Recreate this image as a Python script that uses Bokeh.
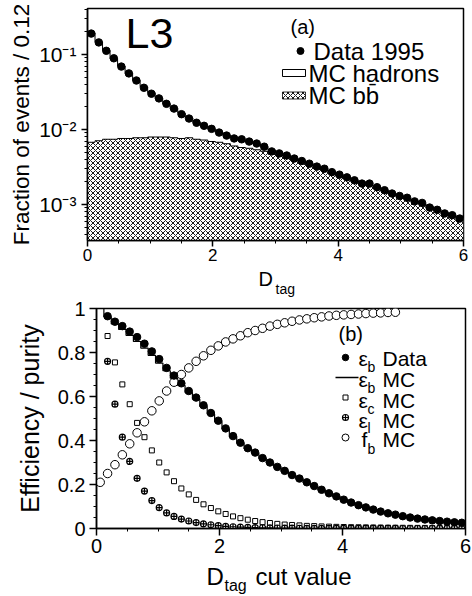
from bokeh.plotting import figure
from bokeh.models import (Range1d, Label, SingleIntervalTicker, LogTicker, CustomJSTickFormatter)
from bokeh.embed import file_html
from bokeh.resources import INLINE

FONT = "Liberation Sans"

# ---------------- panel (a): D_tag distribution ----------------
bin_edges = [round(0.12 * i, 2) for i in range(51)]
bin_centers = [round(0.06 + 0.12 * i, 2) for i in range(50)]
data_1995 = [0.190, 0.145, 0.112, 0.089, 0.069, 0.056, 0.045, 0.036, 0.030, 0.026,
             0.022, 0.019, 0.016, 0.014, 0.0123, 0.0112, 0.0102, 0.0091, 0.0083, 0.0076,
             0.0074, 0.0069, 0.0065, 0.0059, 0.0051, 0.0048, 0.0045, 0.0041, 0.0038, 0.0035,
             0.0032, 0.0030, 0.0027, 0.0025, 0.0023, 0.0021, 0.0019, 0.0019, 0.0017, 0.00155,
             0.0014, 0.0013, 0.00123, 0.0011, 0.00105, 0.00091, 0.00085, 0.00076, 0.00072, 0.00065]
mc_hadrons = [0.195, 0.147, 0.113, 0.088, 0.070, 0.056, 0.045, 0.037, 0.031, 0.026,
              0.022, 0.019, 0.0165, 0.0143, 0.0125, 0.0112, 0.0101, 0.0092, 0.0084, 0.0077,
              0.0072, 0.0068, 0.0064, 0.0059, 0.0053, 0.0049, 0.0045, 0.0041, 0.0038, 0.0035,
              0.0032, 0.0029, 0.0027, 0.0025, 0.0023, 0.0021, 0.0020, 0.0018, 0.0017, 0.00155,
              0.0014, 0.0013, 0.0012, 0.0011, 0.00102, 0.00094, 0.00086, 0.00078, 0.00072, 0.00066]
mc_bb = [0.00676, 0.00708, 0.00741, 0.00741, 0.00759, 0.00759, 0.00776, 0.00776, 0.00794, 0.00794,
         0.00794, 0.00776, 0.00759, 0.00776, 0.00741, 0.00724, 0.00692, 0.00676, 0.00646, 0.00603,
         0.00575, 0.00562, 0.00537, 0.00513, 0.00468, 0.00447, 0.00417, 0.00389, 0.00363, 0.00339,
         0.00316, 0.00288, 0.00263, 0.00240, 0.00224, 0.00204, 0.00191, 0.00178, 0.00166, 0.00151,
         0.00138, 0.00129, 0.00120, 0.00110, 0.00102, 0.000912, 0.000832, 0.000759, 0.000692, 0.000617]
legend_a = ["Data 1995", "MC hadrons", "MC b\u0062\u0304"]

# ---------------- panel (b): efficiency / purity ----------------
cut_values = [round(0.18 + 0.12 * i, 2) for i in range(49)]
eff_b_data = [0.965, 0.94, 0.92, 0.895, 0.87, 0.84, 0.805, 0.77, 0.73, 0.695,
              0.66, 0.625, 0.595, 0.56, 0.525, 0.49, 0.455, 0.42, 0.39, 0.365,
              0.345, 0.32, 0.30, 0.28, 0.262, 0.243, 0.227, 0.21, 0.193, 0.176,
              0.16, 0.146, 0.131, 0.118, 0.106, 0.096, 0.086, 0.077, 0.069, 0.063,
              0.056, 0.05, 0.045, 0.041, 0.037, 0.034, 0.031, 0.028, 0.026]
eff_b_mc = [0.962, 0.93, 0.905, 0.878, 0.85, 0.82, 0.787, 0.752, 0.717, 0.683,
            0.65, 0.618, 0.588, 0.555, 0.52, 0.486, 0.452, 0.418, 0.388, 0.363,
            0.342, 0.319, 0.298, 0.279, 0.26, 0.242, 0.225, 0.208, 0.191, 0.175,
            0.159, 0.145, 0.131, 0.118, 0.106, 0.095, 0.085, 0.077, 0.069, 0.062,
            0.056, 0.05, 0.045, 0.041, 0.037, 0.034, 0.031, 0.028, 0.026]
eff_c_mc = [0.875, 0.755, 0.655, 0.565, 0.48, 0.415, 0.355, 0.30, 0.255, 0.215,
            0.182, 0.155, 0.13, 0.11, 0.093, 0.078, 0.066, 0.055, 0.047, 0.040,
            0.034, 0.029, 0.025, 0.021, 0.018, 0.016, 0.014, 0.012, 0.011, 0.0095,
            0.0085, 0.0075, 0.0068, 0.006, 0.0055, 0.005, 0.0046, 0.0042, 0.0038, 0.0035,
            0.0032, 0.003, 0.0028, 0.0026, 0.0024, 0.0022, 0.0021, 0.002, 0.0019]
eff_l_mc = [0.76, 0.565, 0.415, 0.305, 0.228, 0.17, 0.127, 0.095, 0.071, 0.055,
            0.043, 0.034, 0.027, 0.021, 0.017, 0.013, 0.010, 0.008, 0.0065, 0.005,
            0.004, 0.0033, 0.0027, 0.0022, 0.0018, 0.0015, 0.0012, 0.001, 0.0008, 0.0007,
            0.0006, 0.0005, 0.0004, 0.00035, 0.0003, 0.00025, 0.0002, 0.0002, 0.00015, 0.00015,
            0.0001, 0.0001, 0.0001, 0.0001, 0.0001, 0.0001, 0.0001, 0.0001, 0.0001]
fb_cut_values = [round(0.06 + 0.12 * i, 2) for i in range(41)]
f_b_mc = [0.21, 0.25, 0.29, 0.335, 0.385, 0.435, 0.485, 0.535, 0.58, 0.625,
          0.665, 0.70, 0.73, 0.76, 0.785, 0.81, 0.83, 0.848, 0.862, 0.876,
          0.89, 0.90, 0.91, 0.92, 0.928, 0.935, 0.942, 0.948, 0.953, 0.958,
          0.962, 0.966, 0.969, 0.971, 0.973, 0.975, 0.977, 0.979, 0.98, 0.982, 0.983]
legend_b_symbol = ["\u03b5", "\u03b5", "\u03b5", "\u03b5", "f"]
legend_b_sub = ["b", "b", "c", "l", "b"]
legend_b_text = ["Data", "MC", "MC", "MC", "MC"]


def style_axis(ax, size):
    ax.axis_line_width = 1.5
    ax.axis_line_color = "black"
    ax.major_tick_line_width = 1.5
    ax.minor_tick_line_width = 1
    ax.major_tick_in = 0
    ax.minor_tick_in = 0
    ax.major_label_text_font = FONT
    ax.major_label_text_font_size = size
    ax.major_label_text_color = "black"
    ax.axis_label_text_font = FONT
    ax.axis_label_text_font_style = "normal"
    ax.axis_label_text_color = "black"


def outline(edges, vals, floor):
    xs, ys = [edges[0]], [floor]
    for i, v in enumerate(vals):
        xs += [edges[i], edges[i + 1]]
        ys += [v, v]
    xs.append(edges[-1])
    ys.append(floor)
    return xs, ys


def add_text(p, txt, x, y, fs, font=FONT):
    p.add_layout(Label(x=x, y=y, text=txt, text_font=font, text_font_size=fs,
                       text_align="left", text_baseline="middle", text_color="black"))


HATCH = dict(hatch_pattern="diagonal_cross", hatch_scale=5, hatch_weight=0.9,
             hatch_color="black")

# ================= top figure (frame 87..463 x 8..240) =================
Y0, Y1 = 10 ** -3.48, 10 ** (-1 + 46 / 75.0)
p1 = figure(width=472, height=267, x_range=Range1d(0, 6), y_range=Range1d(Y0, Y1),
            y_axis_type="log", output_backend="svg", toolbar_location=None,
            min_border_left=87, min_border_right=9, min_border_top=8, min_border_bottom=27)
p1.grid.visible = False
p1.outline_line_color = "black"
p1.outline_line_width = 1.5


def tx(px):
    return (px - 87) / 62.67


def ty(py):
    return 10 ** (-1 - (py - 54) / 75.0)


hx, hy = outline(bin_edges, mc_hadrons, Y0 * 0.5)
p1.patch(hx, hy, fill_color="white", line_color="black", line_width=1)
bx_, by_ = outline(bin_edges, mc_bb, Y0 * 0.5)
p1.patch(bx_, by_, fill_color="white", line_color="black", line_width=1, **HATCH)
p1.scatter(bin_centers, data_1995, size=7.5, marker="circle",
           fill_color="black", line_color="black")

p1.xaxis.ticker = SingleIntervalTicker(interval=2, num_minor_ticks=4)
p1.yaxis.ticker = LogTicker(num_minor_ticks=10)
p1.yaxis.formatter = CustomJSTickFormatter(code="""
const e = Math.round(Math.log10(tick));
const sup = {"0": "\\u2070", "1": "\\u00b9", "2": "\\u00b2", "3": "\\u00b3", "4": "\\u2074"};
let s = (e < 0 ? "\\u207b" : "");
for (const ch of String(Math.abs(e))) { s += sup[ch]; }
return "10" + s;
""")
style_axis(p1.xaxis[0], "17px")
style_axis(p1.yaxis[0], "21px")
p1.xaxis.major_tick_out = 6
p1.xaxis.minor_tick_out = 3
p1.xaxis.major_label_standoff = 2
p1.yaxis.major_tick_out = 6
p1.yaxis.minor_tick_out = 3
p1.yaxis.major_label_standoff = 5
p1.yaxis.axis_label = "Fraction of events / 0.12"
p1.yaxis.axis_label_text_font_size = "22.5px"
p1.yaxis.axis_label_standoff = 2

# legend (a): key symbols and texts
p1.scatter([tx(300)], [ty(50.5)], size=7, marker="circle", fill_color="black",
           line_color="black")
p1.quad(left=[tx(282)], right=[tx(305)], top=[ty(69)], bottom=[ty(76)],
        fill_color="white", line_color="black", line_width=1)
p1.quad(left=[tx(282)], right=[tx(305)], top=[ty(91.5)], bottom=[ty(98.5)],
        fill_color="white", line_color="black", line_width=0.8, **HATCH)
add_text(p1, legend_a[0], tx(313), ty(50.5), "24px")
add_text(p1, legend_a[1], tx(308), ty(72.5), "24px")
add_text(p1, legend_a[2], tx(308), ty(95), "24px")
add_text(p1, "L3", tx(125), ty(32.5), "43px")
add_text(p1, "(a)", tx(290), ty(26), "20px")

# strip under the top panel holding its x title (page y 267..298)
s1 = figure(width=472, height=31, x_range=Range1d(0, 472), y_range=Range1d(298, 267),
            output_backend="svg", toolbar_location=None, min_border=0,
            x_axis_location=None, y_axis_location=None, outline_line_color=None)
s1.grid.visible = False
add_text(s1, "D", 258, 278, "20px")
add_text(s1, "tag", 275, 288.5, "14px")

# ================= bottom figure (frame 96..465 x 308..528) =================
p2 = figure(width=472, height=264, x_range=Range1d(0, 6), y_range=Range1d(0, 1),
            output_backend="svg", toolbar_location=None,
            min_border_left=96, min_border_right=7, min_border_top=10, min_border_bottom=34)
p2.grid.visible = False
p2.outline_line_color = "black"
p2.outline_line_width = 1.5


def bx(px):
    return (px - 96) / 61.5


def by(py):
    return (528 - py) / 220.0


step_x = [0.0] + [round(0.12 * (i + 1), 2) for i in range(49)] + [6.0]
step_y = [1.0] + eff_b_mc + [eff_b_mc[-1]]
p2.step(step_x, step_y, mode="after", line_color="black", line_width=1.2)
p2.scatter(cut_values, eff_c_mc, marker="square", size=5, fill_color="white",
           line_color="black", line_width=1)
p2.scatter(cut_values, eff_l_mc, marker="circle_cross", size=6, fill_color="white",
           line_color="black", line_width=1.2)
p2.scatter(fb_cut_values, f_b_mc, marker="circle", size=8.5, fill_color="white",
           line_color="black", line_width=1)
p2.scatter(cut_values, eff_b_data, marker="circle", size=7.5, fill_color="black",
           line_color="black")

p2.xaxis.ticker = SingleIntervalTicker(interval=2, num_minor_ticks=4)
p2.yaxis.ticker = SingleIntervalTicker(interval=0.2, num_minor_ticks=4)
p2.yaxis.major_label_overrides = {0: "0", 1: "1"}
style_axis(p2.xaxis[0], "20px")
style_axis(p2.yaxis[0], "20px")
p2.xaxis.major_tick_out = 7
p2.xaxis.minor_tick_out = 3
p2.xaxis.major_label_standoff = 3
p2.yaxis.major_tick_out = 7
p2.yaxis.minor_tick_out = 3
p2.yaxis.major_label_standoff = 4
p2.yaxis.axis_label = "Efficiency / purity"
p2.yaxis.axis_label_text_font_size = "25px"
p2.yaxis.axis_label_standoff = 11

# legend (b): key symbols
p2.scatter([bx(345)], [by(357)], size=6.5, marker="circle", fill_color="black",
           line_color="black")
p2.line([bx(335), bx(358)], [by(377), by(377)], line_color="black", line_width=1.5)
p2.scatter([bx(345)], [by(397)], size=5, marker="square", fill_color="white",
           line_color="black", line_width=1)
p2.scatter([bx(345)], [by(417)], size=6, marker="circle_cross", fill_color="white",
           line_color="black", line_width=1.2)
p2.scatter([bx(345)], [by(437)], size=7, marker="circle", fill_color="white",
           line_color="black", line_width=1)
row_y = [357.5, 378.5, 399.5, 419.5, 438.5]
sub_dy = [9, 9, 9, 7.5, 9.5]
for i in range(5):
    sym_x = 358 if legend_b_symbol[i] != "f" else 361
    add_text(p2, legend_b_symbol[i], bx(sym_x), by(row_y[i]), "21px")
    add_text(p2, legend_b_sub[i], bx(367), by(row_y[i] + sub_dy[i]), "14px")
    add_text(p2, legend_b_text[i], bx(382), by(row_y[i]), "21px")
add_text(p2, "(b)", bx(338), by(333.5), "20px")

# strip under the bottom panel holding its x title (page y 562..595)
s2 = figure(width=472, height=33, x_range=Range1d(0, 472), y_range=Range1d(595, 562),
            output_backend="svg", toolbar_location=None, min_border=0,
            x_axis_location=None, y_axis_location=None, outline_line_color=None)
s2.grid.visible = False
add_text(s2, "D", 206, 576, "24px")
add_text(s2, "tag", 224, 585, "16px")
add_text(s2, "cut value", 255, 576, "24px")

open("out.html", "w").write(file_html([p1, s1, p2, s2], INLINE))
